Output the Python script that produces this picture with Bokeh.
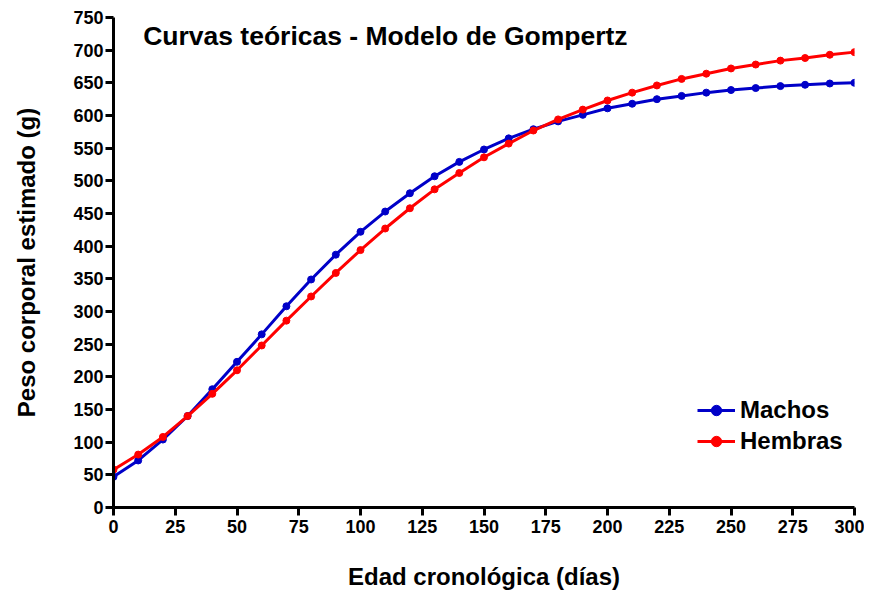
from bokeh.plotting import figure
from bokeh.models import Label, Legend, LegendItem, Range1d, FixedTicker, ColumnDataSource
from bokeh.embed import file_html
from bokeh.resources import INLINE

dias = [0, 10, 20, 30, 40, 50, 60, 70, 80, 90, 100, 110, 120, 130, 140, 150,
        160, 170, 180, 190, 200, 210, 220, 230, 240, 250, 260, 270, 280, 290, 300]
machos = [47, 72, 104, 140, 181, 223, 265, 308, 349, 387, 422, 453, 481, 507, 529, 548,
          565, 579, 591, 601, 611, 618, 625, 630, 635, 639, 642, 645, 647, 649, 650]
hembras = [58, 81, 108, 140, 174, 210, 248, 286, 323, 359, 394, 427, 458, 487, 512, 536,
           557, 577, 594, 609, 623, 635, 646, 656, 664, 672, 678, 684, 688, 693, 697]
x_ticks = list(range(0, 301, 25))
y_ticks = list(range(0, 751, 50))

titulo = "Curvas teóricas - Modelo de Gompertz"
x_titulo = "Edad cronológica (días)"
y_titulo = "Peso corporal estimado (g)"

BLUE = "#0000C8"
RED = "#FF0000"
FONT = "Liberation Sans"

p = figure(width=864, height=593, output_backend="svg", toolbar_location=None,
           x_range=Range1d(0, 300), y_range=Range1d(0, 750),
           min_border_left=113, min_border_right=10, min_border_top=17, min_border_bottom=86)
p.outline_line_color = None
p.xgrid.visible = False
p.ygrid.visible = False
p.background_fill_color = "white"
p.border_fill_color = "white"

src = ColumnDataSource(dict(x=dias, m=machos, h=hembras))
lm = p.line("x", "m", source=src, line_color=BLUE, line_width=3)
cm = p.scatter("x", "m", source=src, size=7, fill_color=BLUE, line_color=BLUE)
lh = p.line("x", "h", source=src, line_color=RED, line_width=3)
ch = p.scatter("x", "h", source=src, size=7, fill_color=RED, line_color=RED)

for ax, ticks in ((p.xaxis[0], x_ticks), (p.yaxis[0], y_ticks)):
    ax.ticker = FixedTicker(ticks=ticks)
    ax.axis_line_width = 3
    ax.axis_line_color = "black"
    ax.major_tick_line_width = 3
    ax.major_tick_line_color = "black"
    ax.major_tick_out = 8
    ax.major_tick_in = 0
    ax.minor_tick_line_color = None
    ax.major_label_text_font = FONT
    ax.major_label_text_font_style = "bold"
    ax.major_label_text_font_size = "18px"
    ax.major_label_text_color = "black"
    ax.axis_label_text_font = FONT
    ax.axis_label_text_font_style = "bold"
    ax.axis_label_text_font_size = "24px"
    ax.axis_label_text_color = "black"

p.xaxis[0].axis_label = x_titulo
p.xaxis[0].axis_label_standoff = 27
p.xaxis[0].major_label_standoff = 4
p.yaxis[0].axis_label = y_titulo
p.yaxis[0].axis_label_standoff = 30
p.yaxis[0].major_label_standoff = 2

p.add_layout(Label(x=12, y=721, text=titulo, text_font=FONT, text_font_style="bold",
                   text_font_size="26.5px", text_baseline="middle", text_color="black"))

legend = Legend(items=[LegendItem(label="Machos", renderers=[lm, cm]),
                       LegendItem(label="Hembras", renderers=[lh, ch])],
                location=(584, 52), orientation="vertical",
                background_fill_alpha=0, border_line_color=None,
                padding=0, margin=0, spacing=3,
                glyph_width=38, glyph_height=26, label_height=26, label_standoff=5,
                label_text_font=FONT, label_text_font_style="bold",
                label_text_font_size="24px", label_text_color="black")
p.add_layout(legend)

open("out.html", "w").write(file_html(p, INLINE))
